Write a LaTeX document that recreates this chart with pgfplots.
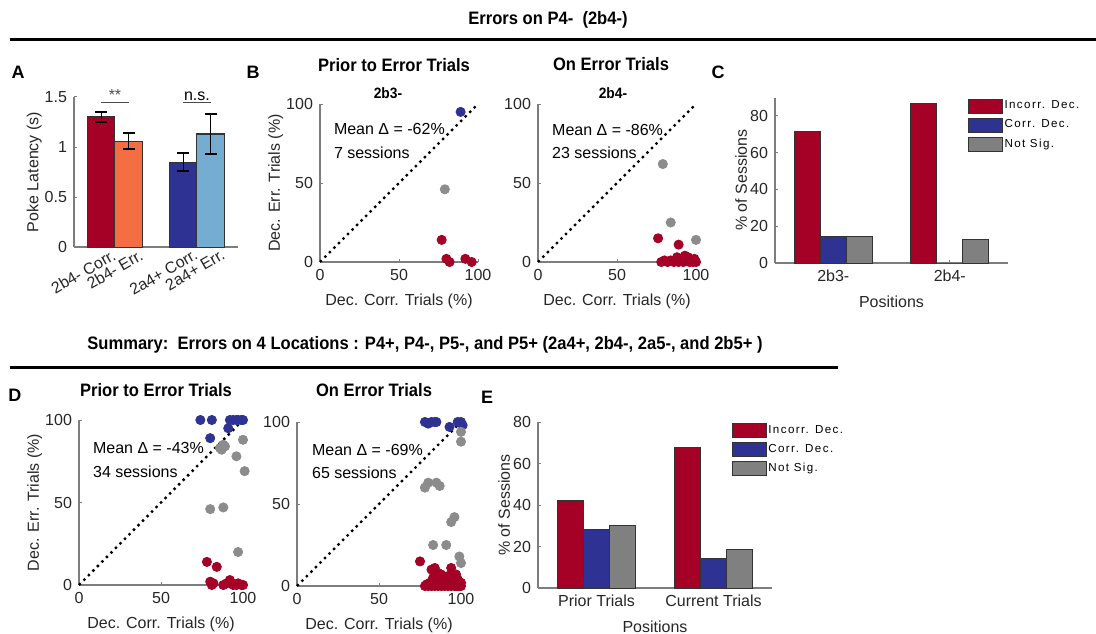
\documentclass[border=0pt]{standalone}
\usepackage{fontspec}
\setmainfont{Liberation Sans}
\newfontfamily\narrowfont[FakeStretch=0.92]{Liberation Sans}
\newfontfamily\legfont[LetterSpace=12]{Liberation Sans}
\usepackage{pgfplots}
\pgfplotsset{compat=1.18}

\definecolor{cred}{RGB}{165,0,38}
\definecolor{corange}{RGB}{244,109,67}
\definecolor{cnavy}{RGB}{46,50,146}
\definecolor{clblue}{RGB}{116,173,209}
\definecolor{cgray}{RGB}{128,128,128}
\definecolor{dgray}{RGB}{140,140,140}
\definecolor{axgray}{RGB}{125,125,125}

\newcommand{\lab}{\fontsize{8}{9}\selectfont}
\newcommand{\ttl}{\narrowfont\bfseries\fontsize{9}{10}\selectfont}

\pgfplotsset{
  matlab/.style={
    scale only axis, clip=false,
    axis x line=bottom, axis y line=left,
    axis line style={axgray, line width=0.8pt, -},
    tick style={axgray, line width=0.5pt},
    major tick length=1.5pt, tick align=inside,
    /pgf/number format/assume math mode=true,
    ylabel near ticks, ylabel shift=-4pt,
    ticklabel style={font=\lab, text=black!85},
    label style={font=\lab, text=black!85},
    y label style={font=\lab, text=black!85, inner sep=2pt},
  },
  scat/.style={matlab, anchor=south west,
    xmin=0, xmax=100, ymin=0, ymax=100,
    xtick={0,50,100}, ytick={0,50,100},
    xlabel={Dec. Corr. Trials (\%)},
  },
  diag/.style={black, dotted, line width=1.2pt},
  pts/.style={only marks, mark=*, mark size=2.3pt, color=#1},
  abar/.style={ybar, bar shift=0pt, fill=#1, draw=black!80, line width=0.5pt},
  ebar/.style={error bars/y dir=both, error bars/y explicit,
    error bars/error bar style={black, line width=0.6pt},
    error bars/error mark options={rotate=90, mark size=3pt, black, line width=0.6pt}},
  cbar/.style={ybar, bar width=0.222, fill=#1, draw=black!80, line width=0.5pt,
    legend image code/.code={\draw[fill=#1, draw=black!80, line width=0.5pt] (0pt,-3.5pt) rectangle (17pt,3.5pt);}},
  sess/.style={matlab, anchor=south west,
    xmin=0.5, xmax=2.5, ymin=0, xtick={1,2},
    xlabel={Positions}, ylabel={\% of Sessions},
    legend cell align=left,
    legend style={at={(0.828,0.995)}, anchor=north west, draw=none, fill=none,
      inner sep=0pt, row sep=2pt, font=\legfont\fontsize{5.8}{6.2}\selectfont,
      nodes={inner sep=0.6pt}},
  },
}

\begin{document}
\begin{tikzpicture}

% ---- A
\begin{axis}[matlab, at={(37pt,193pt)}, anchor=south west, width=82pt, height=75pt,
  xmin=0, xmax=6, ymin=0, ymax=1.5, ytick={0,0.5,1,1.5}, xtick={1,2,4,5},
  xticklabels={2b4- Corr., 2b4- Err., 2a4+ Corr., 2a4+ Err.},
  xticklabel style={rotate=30, anchor=north east, inner sep=1pt, xshift=5pt, yshift=-2pt},
  ylabel={Poke Latency (s)}, bar width=1]
\addplot[abar=cred, ebar] coordinates {(1,1.30) +- (0,0.05)};
\addplot[abar=corange, ebar] coordinates {(2,1.06) +- (0,0.08)};
\addplot[abar=cnavy, ebar] coordinates {(4,0.85) +- (0,0.09)};
\addplot[abar=clblue, ebar] coordinates {(5,1.13) +- (0,0.20)};
\draw[black!70, line width=0.5pt] (axis cs:1,1.44) -- (axis cs:2,1.44);
\draw[black!70, line width=0.5pt] (axis cs:4,1.44) -- (axis cs:5,1.44);
\node[font=\lab, text=black!70, anchor=south, inner sep=1pt] at (axis cs:1.5,1.44) {**};
\node[font=\lab, anchor=south, inner sep=1pt] at (axis cs:4.5,1.44) {n.s.};
\end{axis}

% ---- B left
\begin{axis}[scat, at={(160pt,185.5pt)}, width=79pt, height=79pt,
  ylabel={Dec. Err. Trials (\%)}]
\addplot[diag] coordinates {(0,0) (100,100)};
\addplot[pts=dgray] coordinates {(79,46)};
\addplot[pts=cnavy] coordinates {(89,95)};
\addplot[pts=cred] coordinates {(77,14) (80,2) (82,0) (92,2) (96,0)};
\node[font=\lab, anchor=west] at (axis cs:4.4,84) {Mean Δ = -62\%};
\node[font=\lab, anchor=west] at (axis cs:4.4,69) {7 sessions};
\end{axis}

% ---- B right
\begin{axis}[scat, at={(269pt,185.5pt)}, width=79pt, height=79pt]
\addplot[diag] coordinates {(0,0) (100,100)};
\addplot[pts=dgray] coordinates {(79,62) (84,25) (100,14)};
\addplot[pts=cred] coordinates {(76,15) (89,11)
  (78,0) (80,1) (82,0) (84,1) (86,0) (88,3) (88,1) (89,0) (90,1)
  (91,2) (92,0) (93,4) (94,1) (95,3) (96,0) (97,1) (98,0) (99,2) (100,0)};
\node[font=\lab, anchor=west] at (axis cs:4.5,83.5) {Mean Δ = -86\%};
\node[font=\lab, anchor=west] at (axis cs:4.5,69) {23 sessions};
\end{axis}

% ---- C
\begin{axis}[sess, at={(387.5pt,185pt)}, width=116.5pt, height=82.7pt,
  ymax=90, ytick={0,20,40,60,80}, xticklabels={2b3-,2b4-}]
\addplot[cbar=cred, bar shift=-0.222] coordinates {(1,71.4) (2,87)};
\addplot[cbar=cnavy, bar shift=0] coordinates {(1,14.3) (2,0)};
\addplot[cbar=cgray, bar shift=0.222] coordinates {(1,14.3) (2,13)};
\legend{Incorr. Dec., Corr. Dec., Not Sig.}
\end{axis}

% ---- D left
\begin{axis}[scat, at={(39.5pt,24pt)}, width=82pt, height=82.5pt,
  ylabel={Dec. Err. Trials (\%)}]
\addplot[diag] coordinates {(0,0) (100,100)};
\addplot[pts=cnavy] coordinates {(74,100) (81,100) (80,89) (91,95) (92,100)
  (94,100) (96,100) (97,100) (99,100) (100,100)};
\addplot[pts=dgray] coordinates {(88,85) (87,82) (89,84) (86,83) (100,88)
  (96,78) (101,69) (80,46) (88,47) (97,20)};
\addplot[pts=cred] coordinates {(78,14) (84,11) (80,2) (81,0) (82,1) (88,0)
  (90,1) (92,3) (93,1) (94,0) (96,0) (97,1) (99,0) (100,0)};
\node[font=\lab, anchor=west] at (axis cs:4.3,83) {Mean Δ = -43\%};
\node[font=\lab, anchor=west] at (axis cs:4.3,68.5) {34 sessions};
\end{axis}

% ---- D right
\begin{axis}[scat, at={(148.5pt,23.5pt)}, width=82pt, height=82pt]
\addplot[diag] coordinates {(0,0) (100,100)};
\addplot[pts=cnavy] coordinates {(78,100) (80,99) (82,100) (84,100) (85,100)
  (93,97) (98,100) (100,100) (101,98)};
\addplot[pts=dgray] coordinates {(100,94) (100,88) (78,60) (80,63) (85,63)
  (87,61) (94,39) (96,42) (83,25) (91,25) (99,18) (100,14)};
\addplot[pts=cred] coordinates {(75,15) (82,10) (84,11) (86,8) (85,6) (94,11)
  (90,5) (92,6) (88,7) (97,7) (98,4) (83,5)
  (78,0) (79,1) (80,0) (81,2) (82,0) (83,1) (84,0) (85,2) (86,0) (87,1)
  (88,0) (88,3) (89,1) (90,0) (90,2) (91,1) (92,0) (92,3) (93,1) (94,0)
  (94,2) (95,1) (96,0) (96,3) (97,1) (97,0) (98,2) (98,0) (99,1) (99,0)
  (100,0) (100,2)};
\node[font=\lab, anchor=west] at (axis cs:4.9,82.8) {Mean Δ = -69\%};
\node[font=\lab, anchor=west] at (axis cs:4.9,69) {65 sessions};
\end{axis}

% ---- E
\begin{axis}[sess, at={(269pt,22.5pt)}, width=117pt, height=83pt,
  ymax=80, ytick={0,20,40,60,80}, xticklabels={Prior Trials,Current Trials}]
\addplot[cbar=cred, bar shift=-0.222] coordinates {(1,42) (2,67.7)};
\addplot[cbar=cnavy, bar shift=0] coordinates {(1,28) (2,14)};
\addplot[cbar=cgray, bar shift=0.222] coordinates {(1,30) (2,18.5)};
\legend{Incorr. Dec., Corr. Dec., Not Sig.}
\end{axis}

% ---- titles, panel letters, rules
\begin{scope}[x=0.5pt, y=-0.5pt, yshift=316.5pt]
\node[font=\ttl] at (548,20) {Errors on P4-~~(2b4-)};
\draw[line width=1.5pt] (10,40) -- (1096,40);
\node[font=\ttl] at (425,345) {Summary:~~Errors on 4 Locations : P4+, P4-, P5-, and P5+ (2a4+, 2b4-, 2a5-, and 2b5+ )};
\draw[line width=1.5pt] (10,367) -- (838,367);
\node[font=\ttl] at (394,65) {Prior to Error Trials};
\node[font=\ttl] at (611,64) {On Error Trials};
\node[font=\narrowfont\bfseries\fontsize{7.5}{8}\selectfont] at (388,93) {2b3-};
\node[font=\narrowfont\bfseries\fontsize{7.5}{8}\selectfont] at (613,93) {2b4-};
\node[font=\ttl] at (156,390) {Prior to Error Trials};
\node[font=\ttl] at (374,390) {On Error Trials};
\foreach \l/\x/\y in {A/18/72, B/253/72, C/718/72, D/15/395, E/487/397}
  \node[font=\bfseries\fontsize{9}{10}\selectfont] at (\x,\y) {\l};
\end{scope}

\pgfresetboundingbox
\path[use as bounding box] (0,0) rectangle (548pt,316.5pt);
\end{tikzpicture}
\end{document}
